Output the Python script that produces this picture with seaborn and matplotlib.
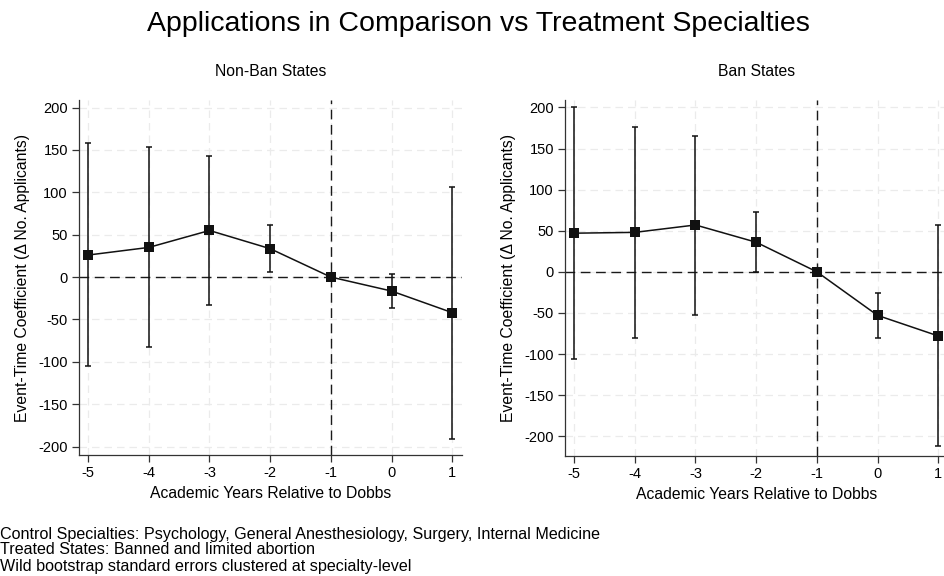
import matplotlib
matplotlib.use("Agg")
import matplotlib.pyplot as plt
import seaborn as sns
import pandas as pd

# event time
years = [-5, -4, -3, -2, -1, 0, 1]

# Non-Ban States
nonban_coef = [26, 35, 55, 33.5, 0, -16.5, -42]
nonban_hi = [158, 153, 143, 61, 0, 4, 106]
nonban_lo = [-105, -82, -33.5, 6, 0, -37, -191]

# Ban States
ban_coef = [47, 48, 57, 36, 0, -53, -78]
ban_hi = [200, 176, 165, 73, 0, -26, 57]
ban_lo = [-106, -80, -52, 0, 0, -80, -212]

yticks = [-200, -150, -100, -50, 0, 50, 100, 150, 200]

notes = [
    "Control Specialties: Psychology, General Anesthesiology, Surgery, Internal Medicine",
    "Treated States: Banned and limited abortion",
    "Wild bootstrap standard errors clustered at specialty-level",
]

sns.set_style("ticks")
plt.rcParams["font.family"] = ["Liberation Sans", "DejaVu Sans"]
plt.rcParams["text.color"] = "black"
plt.rcParams["axes.labelcolor"] = "black"
plt.rcParams["xtick.color"] = "black"
plt.rcParams["ytick.color"] = "black"

fig = plt.figure(figsize=(9.45, 5.76), dpi=100)
ax1 = fig.add_axes([79 / 945, 121 / 576, 383 / 945, 355 / 576])
ax2 = fig.add_axes([565 / 945, 120 / 576, 383 / 945, 356 / 576])


def draw_panel(ax, coef, lo, hi, title, ylim):
    df = pd.DataFrame({"year": years, "coef": coef, "lo": lo, "hi": hi})
    for y in yticks:
        ax.axhline(y, color="#ebebeb", lw=0.9, ls=(0, (6, 4)), zorder=0)
    for x in years:
        ax.axvline(x, color="#ebebeb", lw=0.9, ls=(0, (6, 4)), zorder=0)
    ax.axhline(0, color="#1a1a1a", lw=1.0, ls=(0, (7, 4)), zorder=1)
    ax.axvline(-1, color="#1a1a1a", lw=1.0, ls=(0, (7, 4)), zorder=1)
    ax.errorbar(df["year"], df["coef"],
                yerr=[df["coef"] - df["lo"], df["hi"] - df["coef"]],
                fmt="none", ecolor="#111111", elinewidth=1.1, capsize=2.5,
                capthick=1.1, zorder=2)
    sns.lineplot(data=df, x="year", y="coef", ax=ax, color="#111111",
                 lw=1.1, marker="s", markersize=6.5, markeredgewidth=0,
                 zorder=3)
    ax.set_xlim(-5.15, 1.16)
    ax.set_ylim(*ylim)
    ax.set_xticks(years)
    ax.set_xticklabels([str(v) for v in years])
    ax.set_yticks(yticks)
    ax.set_yticklabels([str(v) for v in yticks])
    ax.tick_params(axis="both", labelsize=10.5, length=5, width=0.9,
                   color="#333333", pad=3)
    sns.despine(ax=ax)
    for s in ("left", "bottom"):
        ax.spines[s].set_color("#333333")
        ax.spines[s].set_linewidth(0.9)
    ax.set_xlabel("Academic Years Relative to Dobbs", fontsize=11.3, labelpad=4)
    ax.set_ylabel("Event-Time Coefficient (\u0394 No. Applicants)",
                  fontsize=11.3, labelpad=6)
    ax.set_title(title, fontsize=11.3, pad=17)


draw_panel(ax1, nonban_coef, nonban_lo, nonban_hi, "Non-Ban States", (-210, 209))
draw_panel(ax2, ban_coef, ban_lo, ban_hi, "Ban States", (-224, 209))

fig.text(478 / 945, 1 - 24 / 576, "Applications in Comparison vs Treatment Specialties",
         ha="center", va="center", fontsize=20.5)

for i, line in enumerate(notes):
    fig.text(0.5 / 945, 1 - (534 + 16 * i) / 576, line, ha="left", va="center",
             fontsize=11.6)

fig.savefig("out.png", dpi=100)
